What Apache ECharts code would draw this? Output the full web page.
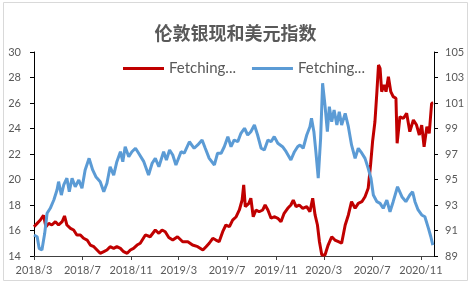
<!DOCTYPE html>
<html><head><meta charset="utf-8">
<script src="https://cdn.jsdelivr.net/npm/echarts@6/dist/echarts.min.js"></script>
<style>html,body{margin:0;padding:0;background:#fff}#c{width:471px;height:286px}</style>
</head><body><div id="c"></div>
<script>
const chartTitle = '伦敦银现和美元指数';
const legendText = 'Fetching...';
const xTickDates = ['2018-03-01','2018-07-01','2018-11-01','2019-03-01','2019-07-01','2019-11-01','2020-03-01','2020-07-01','2020-11-01'];
const xRange = ['2018-03-01','2020-12-04'];

const silverDates = ['2018-03-01','2018-03-09','2018-03-17','2018-03-25','2018-03-31','2018-04-07','2018-04-15','2018-04-24','2018-05-02','2018-05-11','2018-05-17','2018-05-23','2018-06-01','2018-06-09','2018-06-17','2018-06-26','2018-07-04','2018-07-13','2018-07-21','2018-07-30','2018-08-07','2018-08-15','2018-08-24','2018-09-01','2018-09-09','2018-09-18','2018-09-26','2018-10-05','2018-10-13','2018-10-22','2018-10-30','2018-11-07','2018-11-16','2018-11-24','2018-12-07','2018-12-19','2019-01-01','2019-01-10','2019-01-18','2019-01-26','2019-02-04','2019-02-14','2019-02-26','2019-03-11','2019-03-24','2019-04-05','2019-04-18','2019-05-01','2019-05-09','2019-05-17','2019-05-26','2019-06-03','2019-06-11','2019-06-20','2019-06-28','2019-07-07','2019-07-15','2019-07-24','2019-08-01','2019-08-08','2019-08-12','2019-08-16','2019-08-25','2019-08-30','2019-09-05','2019-09-12','2019-09-20','2019-09-29','2019-10-05','2019-10-12','2019-10-20','2019-10-28','2019-11-06','2019-11-14','2019-11-22','2019-12-01','2019-12-09','2019-12-15','2019-12-22','2019-12-30','2020-01-08','2020-01-18','2020-01-26','2020-02-02','2020-02-08','2020-02-14','2020-02-19','2020-02-25','2020-03-04','2020-03-12','2020-03-21','2020-03-29','2020-04-07','2020-04-15','2020-04-24','2020-05-02','2020-05-10','2020-05-19','2020-05-27','2020-06-05','2020-06-13','2020-06-21','2020-06-27','2020-07-02','2020-07-08','2020-07-13','2020-07-17','2020-07-21','2020-07-25','2020-07-31','2020-08-05','2020-08-11','2020-08-17','2020-08-23','2020-08-30','2020-09-02','2020-09-09','2020-09-18','2020-09-26','2020-10-04','2020-10-13','2020-10-21','2020-10-28','2020-11-03','2020-11-09','2020-11-16','2020-11-22','2020-11-28','2020-12-02'];
const silverValues = [16.3,16.56,16.82,17.2,16.3,16.56,16.43,16.69,16.43,16.69,17.14,16.43,16.17,16.04,15.65,15.65,15.39,15.25,14.86,14.73,14.47,14.21,14.34,14.47,14.73,14.6,14.73,14.6,14.34,14.21,14.47,14.6,14.86,15.0,15.65,15.51,16.04,15.78,16.04,15.9,15.45,15.25,15.51,15.12,15.12,14.86,14.73,14.47,14.73,15.0,15.39,15.25,15.12,15.91,16.43,16.3,16.82,17.08,17.61,18.39,19.57,17.87,18.13,18.53,17.08,17.61,17.47,17.61,18.0,17.61,16.96,17.08,16.96,16.69,17.35,17.74,18.0,18.39,17.87,18.0,17.74,17.87,17.47,18.53,17.22,16.43,15.12,14.08,14.08,14.86,15.51,15.25,15.12,15.0,16.43,17.22,18.26,17.74,18.13,18.26,18.65,19.31,21.14,22.96,24.53,26.89,28.98,28.72,26.89,27.41,26.89,28.06,26.89,26.5,26.37,22.84,24.92,24.8,25.19,23.75,24.67,24.27,23.49,24.27,22.57,24.14,23.62,25.98,26.0];

const usdDates = ['2018-03-01','2018-03-09','2018-03-14','2018-03-21','2018-03-28','2018-04-03','2018-04-11','2018-04-20','2018-04-28','2018-05-02','2018-05-09','2018-05-15','2018-05-23','2018-05-29','2018-06-05','2018-06-13','2018-06-22','2018-06-30','2018-07-08','2018-07-18','2018-07-27','2018-08-04','2018-08-15','2018-08-24','2018-09-01','2018-09-09','2018-09-18','2018-09-26','2018-10-05','2018-10-11','2018-10-17','2018-10-26','2018-11-03','2018-11-12','2018-11-20','2018-12-03','2018-12-15','2018-12-24','2019-01-01','2019-01-10','2019-01-22','2019-01-29','2019-02-06','2019-02-14','2019-02-22','2019-03-07','2019-03-15','2019-03-28','2019-04-09','2019-04-18','2019-04-29','2019-05-07','2019-05-17','2019-05-30','2019-06-07','2019-06-16','2019-06-24','2019-07-03','2019-07-11','2019-07-19','2019-07-28','2019-08-05','2019-08-14','2019-08-22','2019-08-30','2019-09-08','2019-09-16','2019-09-25','2019-10-03','2019-10-12','2019-10-20','2019-10-28','2019-11-06','2019-11-18','2019-11-27','2019-12-09','2019-12-18','2019-12-26','2020-01-01','2020-01-09','2020-01-18','2020-01-26','2020-01-30','2020-02-05','2020-02-10','2020-02-16','2020-02-22','2020-02-27','2020-03-04','2020-03-10','2020-03-15','2020-03-21','2020-03-27','2020-04-03','2020-04-09','2020-04-15','2020-04-24','2020-05-02','2020-05-10','2020-05-19','2020-05-27','2020-06-05','2020-06-13','2020-06-21','2020-06-28','2020-07-04','2020-07-13','2020-07-21','2020-07-29','2020-08-07','2020-08-15','2020-08-23','2020-09-03','2020-09-14','2020-09-24','2020-10-04','2020-10-11','2020-10-17','2020-10-25','2020-11-03','2020-11-11','2020-11-20','2020-11-26','2020-12-01'];
const usdValues = [90.65,90.51,89.6,89.47,90.78,92.35,92.74,93.39,94.18,94.83,93.78,94.57,95.1,94.04,95.1,94.43,94.96,94.31,95.75,96.66,95.75,95.22,94.83,94.04,94.7,96.0,95.35,96.4,97.18,96.4,97.57,96.79,97.18,97.45,97.06,96.4,95.35,96.27,96.66,96.0,97.18,96.53,97.31,96.92,96.14,97.18,97.06,97.96,97.45,97.71,98.1,97.45,96.66,96.14,97.06,97.06,97.57,98.36,97.57,98.1,97.96,98.62,99.02,98.49,98.75,99.27,98.49,97.45,97.31,98.1,97.96,98.36,97.84,97.57,97.18,96.53,97.18,97.57,97.71,97.45,98.49,99.14,99.8,98.75,97.18,95.1,98.23,102.55,100.84,98.75,100.71,99.53,100.45,99.27,100.32,99.27,100.19,99.14,97.71,96.66,97.45,97.06,96.66,95.88,95.1,93.78,93.26,93.13,92.74,93.39,92.47,93.26,94.43,93.65,93.26,93.78,94.04,93.26,92.61,92.22,92.08,91.17,90.51,89.86];

const leftAxisRange = [14, 30, 2];
const rightAxisRange = [89, 105, 2];

const P = d => +echarts.number.parseDate(d);
const chart = echarts.init(document.getElementById('c'), null, {renderer: 'canvas'});
const textColor = '#595959';
const font = 'Lato, "Open Sans", sans-serif';

chart.setOption({
  animation: false,
  backgroundColor: '#ffffff',
  title: {
    text: chartTitle, left: 'center', top: 19,
    textStyle: {fontFamily: '"Noto Sans CJK SC", sans-serif', fontSize: 18, fontWeight: 'bold', color: textColor}
  },
  legend: {
    left: 123, top: 61, padding: 0, itemGap: 16, itemWidth: 41, itemHeight: 3, icon: 'rect',
    formatter: () => legendText,
    textStyle: {fontFamily: font, fontSize: 15, color: textColor},
    data: ['silver', 'usd']
  },
  graphic: [{
    type: 'rect', shape: {x: 3.5, y: 2.5, width: 464, height: 278},
    style: {fill: 'none', stroke: '#d9d9d9', lineWidth: 1}, silent: true
  }],
  grid: {left: 34, right: 37, top: 52, bottom: 30, containLabel: false},
  xAxis: {
    type: 'value', min: P(xRange[0]), max: P(xRange[1]), scale: true,
    axisLine: {lineStyle: {color: '#404040', width: 1}},
    axisTick: {show: true, length: 4, customValues: xTickDates.map(P), lineStyle: {color: '#404040'}},
    axisLabel: {
      customValues: xTickDates.map(P), margin: 9, fontFamily: font, fontSize: 11, color: textColor,
      formatter: v => { const d = new Date(v); return d.getFullYear() + '/' + (d.getMonth() + 1); }
    },
    splitLine: {show: false}
  },
  yAxis: [{
    type: 'value', min: leftAxisRange[0], max: leftAxisRange[1], interval: leftAxisRange[2],
    axisLine: {show: true, lineStyle: {color: '#000', width: 1}},
    axisTick: {show: true, length: 4, lineStyle: {color: '#000'}},
    axisLabel: {margin: 13, fontFamily: font, fontSize: 11, color: textColor},
    splitLine: {show: false}
  }, {
    type: 'value', min: rightAxisRange[0], max: rightAxisRange[1], interval: rightAxisRange[2],
    position: 'right',
    axisLine: {show: true, lineStyle: {color: '#000', width: 1}},
    axisTick: {show: true, length: 4, lineStyle: {color: '#000'}},
    axisLabel: {margin: 11, fontFamily: font, fontSize: 11, color: textColor},
    splitLine: {show: false}
  }],
  series: [{
    name: 'silver', type: 'line', yAxisIndex: 0, showSymbol: false, symbol: 'none', z: 2,
    lineStyle: {color: '#C00000', width: 3}, itemStyle: {color: '#C00000'},
    data: silverDates.map((d, i) => [P(d), silverValues[i]])
  }, {
    name: 'usd', type: 'line', yAxisIndex: 1, showSymbol: false, symbol: 'none', z: 3,
    lineStyle: {color: '#5B9BD5', width: 3}, itemStyle: {color: '#5B9BD5'},
    data: usdDates.map((d, i) => [P(d), usdValues[i]])
  }]
});
</script>
</body></html>
